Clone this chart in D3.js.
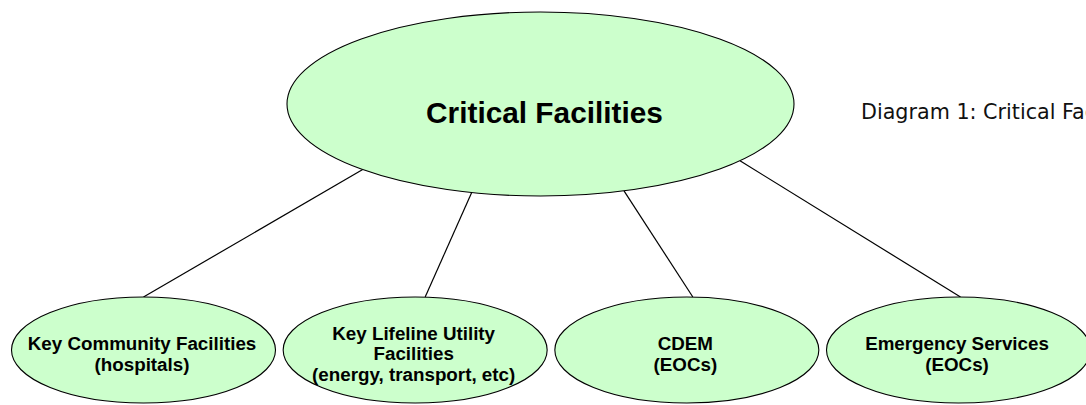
<!DOCTYPE html>
<html>
<head>
<meta charset="utf-8">
<script src="https://cdn.jsdelivr.net/npm/d3@7"></script>
<style>
    html, body { margin: 0; padding: 0; background: #fff; overflow: hidden; }
    svg { display: block; }
</style>
</head>
<body>
<div id="chart"></div>
<script>
/**
 * Data.
 */
const rootLabel = 'Critical Facilities';
const caption = 'Diagram 1: Critical Facilities';
const childIds = ['community', 'lifeline', 'cdem', 'emergency'];
const childLabels = [
    ['Key Community Facilities', '(hospitals)'],
    ['Key Lifeline Utility', 'Facilities', '(energy, transport, etc)'],
    ['CDEM', '(EOCs)'],
    ['Emergency Services', '(EOCs)']
];

/**
 * Visual configs.
 */
const visWidth = 1086, visHeight = 405;
const root = { cx: 540.5, cy: 104, rx: 253.5, ry: 92 },
    childY = 350, childRx = 132, childRy = 53,
    lineHeight = 20.5,
    fill = '#ccffcc';

// Where each connector leaves the root ellipse (x) and meets the child (offset from child centre)
const linkStartX = [362.7, 471.7, 624, 740],
    linkEndDx = [0, 10, 6, 2];

/**
 * D3.
 */
const xScale = d3.scalePoint().domain(childIds).range([143.5, 958.5]);

const svg = d3.select('#chart').append('svg')
    .attr('width', visWidth)
    .attr('height', visHeight);

const children = childIds.map((id, i) => ({ id: id, lines: childLabels[i], x: xScale(id) }));

function rootEdgeY(x) {
    const t = (x - root.cx) / root.rx;
    return root.cy + root.ry * Math.sqrt(Math.max(0, 1 - t * t));
}

// Connectors (under the ellipses)
svg.append('g').attr('class', 'links')
    .selectAll('line').data(children).enter().append('line')
    .attr('x1', (d, i) => linkStartX[i])
    .attr('y1', (d, i) => rootEdgeY(linkStartX[i]))
    .attr('x2', (d, i) => d.x + linkEndDx[i])
    .attr('y2', childY - childRy)
    .attr('stroke', '#000')
    .attr('stroke-width', 1.2);

// Root node
const rootG = svg.append('g').attr('class', 'root');
rootG.append('ellipse')
    .attr('cx', root.cx).attr('cy', root.cy)
    .attr('rx', root.rx).attr('ry', root.ry)
    .attr('fill', fill).attr('stroke', '#000').attr('stroke-width', 1.1);
rootG.append('text')
    .attr('x', 544.5).attr('y', 123)
    .attr('text-anchor', 'middle')
    .style('font-family', '"Liberation Sans", Arial, sans-serif')
    .style('font-weight', 'bold')
    .style('font-size', '29.8px')
    .text(rootLabel);

// Child nodes
const nodes = svg.append('g').attr('class', 'children')
    .selectAll('g').data(children).enter().append('g')
    .attr('transform', d => 'translate(' + d.x + ',' + childY + ')');

nodes.append('ellipse')
    .attr('rx', childRx).attr('ry', childRy)
    .attr('fill', fill).attr('stroke', '#000').attr('stroke-width', 1.1);

nodes.append('text')
    .attr('text-anchor', 'middle')
    .style('font-family', '"Liberation Sans", Arial, sans-serif')
    .style('font-weight', 'bold')
    .style('font-size', '18.8px')
    .selectAll('tspan').data(d => d.lines.map((t, i) => ({ t: t, i: i, n: d.lines.length })))
    .enter().append('tspan')
    .attr('x', -1.5)
    .attr('y', d => 10.25 + (d.i - (d.n - 1) / 2) * lineHeight)
    .text(d => d.t);

// Caption
svg.append('text')
    .attr('x', 861).attr('y', 119)
    .style('font-family', '"DejaVu Sans", Tahoma, sans-serif')
    .style('font-size', '20.7px')
    .attr('fill', '#111')
    .text(caption);
</script>
</body>
</html>
